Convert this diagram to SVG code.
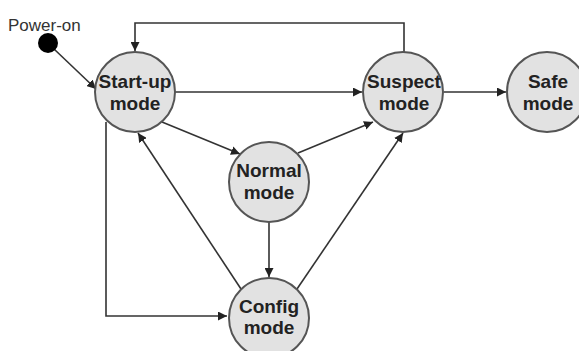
<svg xmlns="http://www.w3.org/2000/svg" width="579" height="351" viewBox="0 0 579 351">
<defs>
<marker id="ah" viewBox="0 0 10 10" refX="10" refY="5" markerWidth="9" markerHeight="9" markerUnits="userSpaceOnUse" orient="auto">
<path d="M0,0 L10,5 L0,10 z" fill="#222"/>
</marker>
<style>
.node circle{fill:#e2e2e2;stroke:#555;stroke-width:2}
.node text{font-family:"Liberation Sans",Arial,sans-serif;font-weight:bold;font-size:19px;fill:#222;text-anchor:middle}
.edge{fill:none;stroke:#333;stroke-width:1.6;marker-end:url(#ah)}
.lbl{font-family:"Liberation Sans",Arial,sans-serif;font-size:17px;fill:#333}
</style>
</defs>
<rect width="579" height="351" fill="#fff"/>
<g id="connectors">
<path class="edge" d="M54,49 L96,89"/>
<path class="edge" d="M404,52 L404,23 L135,23 L135,51"/>
<path class="edge" d="M175,92 L362,92"/>
<path class="edge" d="M444,92 L506,92"/>
<path class="edge" d="M162,122 L240,154"/>
<path class="edge" d="M298,153 L373,122"/>
<path class="edge" d="M269,222 L269,277"/>
<path class="edge" d="M241,289 L138,133"/>
<path class="edge" d="M297,289 L403,133"/>
<path class="edge" d="M106,122 L106,316 L227,316"/>
</g>
<g id="poweron">
<text class="lbl" x="8" y="31">Power-on</text>
<circle cx="48" cy="43" r="10"/>
</g>
<g id="startup" class="node">
<circle cx="135" cy="92" r="40"/>
<text x="135" y="88">Start-up</text>
<text x="135" y="110">mode</text>
</g>
<g id="suspect" class="node">
<circle cx="403" cy="92" r="40"/>
<text x="404" y="88">Suspect</text>
<text x="404" y="110">mode</text>
</g>
<g id="safe" class="node">
<circle cx="547" cy="92" r="40"/>
<text x="548" y="88">Safe</text>
<text x="548" y="110">mode</text>
</g>
<g id="normal" class="node">
<circle cx="269" cy="182" r="40"/>
<text x="269" y="177">Normal</text>
<text x="269" y="199">mode</text>
</g>
<g id="config" class="node">
<circle cx="269" cy="318" r="40"/>
<text x="269" y="313">Config</text>
<text x="269" y="334">mode</text>
</g>
</svg>
